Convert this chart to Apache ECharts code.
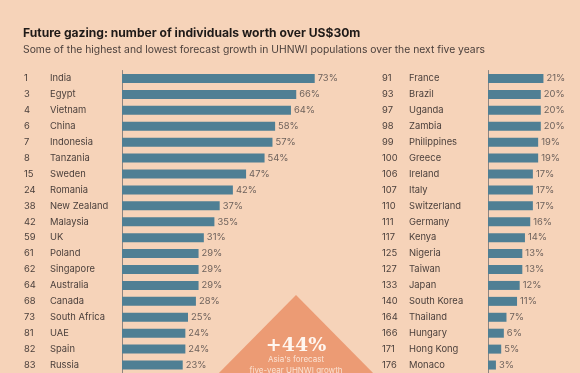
<!DOCTYPE html>
<html><head><meta charset="utf-8">
<script src="https://cdn.jsdelivr.net/npm/echarts@6/dist/echarts.min.js"></script>
<style>html,body{margin:0;padding:0;background:#f6d3b9;}#c{width:580px;height:373px;}</style>
</head><body><div id="c"></div>
<script>
const leftRanks = ['1','3','4','6','7','8','15','24','38','42','59','61','62','64','68','73','81','82','83'];
const leftCountries = ['India','Egypt','Vietnam','China','Indonesia','Tanzania','Sweden','Romania','New Zealand','Malaysia','UK','Poland','Singapore','Australia','Canada','South Africa','UAE','Spain','Russia'];
const leftValues = [73,66,64,58,57,54,47,42,37,35,31,29,29,29,28,25,24,24,23];
const rightRanks = ['91','93','97','98','99','100','106','107','110','111','117','125','127','133','140','164','166','171','176'];
const rightCountries = ['France','Brazil','Uganda','Zambia','Philippines','Greece','Ireland','Italy','Switzerland','Germany','Kenya','Nigeria','Taiwan','Japan','South Korea','Thailand','Hungary','Hong Kong','Monaco'];
const rightValues = [21,20,20,20,19,19,17,17,17,16,14,13,13,12,11,7,6,5,3];

const FONT = 'Inter, "Noto Sans", sans-serif';
const PX = 2.64;
const TOP = 70.5, H = 303;
const BAR = '#4f7f94';

function yAx(idx, cats, ranks, margin, rw){
  return {
    type:'category', gridIndex:idx, data:cats, inverse:true,
    axisLine:{show:true, lineStyle:{color:'#8c8480', width:1}},
    axisTick:{show:false},
    axisLabel:{
      align:'left', margin:margin,
      formatter:(v,i)=>'{r|'+ranks[i]+'}{c|'+v+'}',
      rich:{
        r:{width:rw, fontSize:9.4, color:'#4a3f3b', fontFamily:FONT},
        c:{fontSize:9.4, color:'#4a3f3b', fontFamily:FONT}
      }
    }
  };
}
function ser(idx, vals){
  return {
    type:'bar', xAxisIndex:idx, yAxisIndex:idx, data:vals, barWidth:9,
    itemStyle:{color:BAR},
    label:{show:true, position:'right', distance:3, formatter:'{c}%', fontSize:9.4, color:'#6e625c', fontFamily:FONT},
    silent:true
  };
}
const chart = echarts.init(document.getElementById('c'), null, {renderer:'canvas'});
chart.setOption({
  backgroundColor:'#f6d3b9',
  animation:false,
  title:[
    {text:'Future gazing: number of individuals worth over US$30m', left:23, top:27, padding:0,
     textStyle:{fontSize:12.1, fontWeight:'bold', color:'#1f1a18', fontFamily:FONT}},
    {text:'Some of the highest and lowest forecast growth in UHNWI populations over the next five years', left:23, top:45, padding:0,
     textStyle:{fontSize:10.35, fontWeight:'normal', color:'#4a3f3b', fontFamily:FONT}}
  ],
  grid:[
    {left:122, top:TOP, width:200, height:H},
    {left:488, top:TOP, width:80, height:H}
  ],
  xAxis:[
    {type:'value', gridIndex:0, min:0, max:200/PX, show:false},
    {type:'value', gridIndex:1, min:0, max:80/PX, show:false}
  ],
  yAxis:[ yAx(0, leftCountries, leftRanks, 98, 26), yAx(1, rightCountries, rightRanks, 106, 27) ],
  series:[ ser(0, leftValues), ser(1, rightValues) ],
  graphic:[
    {type:'polygon', z:-1, shape:{points:[[296,295],[212,380],[380,380]]}, style:{fill:'#ec9b74'}},
    {type:'text', z:5, style:{x:296, y:346, text:'+44%', textAlign:'center', textVerticalAlign:'middle', fill:'#fff6ef', font:'bold 19px "DejaVu Serif", serif'}},
    {type:'text', z:5, style:{x:296, y:360, text:"Asia's forecast", textAlign:'center', textVerticalAlign:'middle', fill:'#fbe3d4', font:'8px '+FONT}},
    {type:'text', z:5, style:{x:296, y:371, text:'five-year UHNWI growth', textAlign:'center', textVerticalAlign:'middle', fill:'#fbe3d4', font:'8px '+FONT}}
  ]
});
</script></body></html>
